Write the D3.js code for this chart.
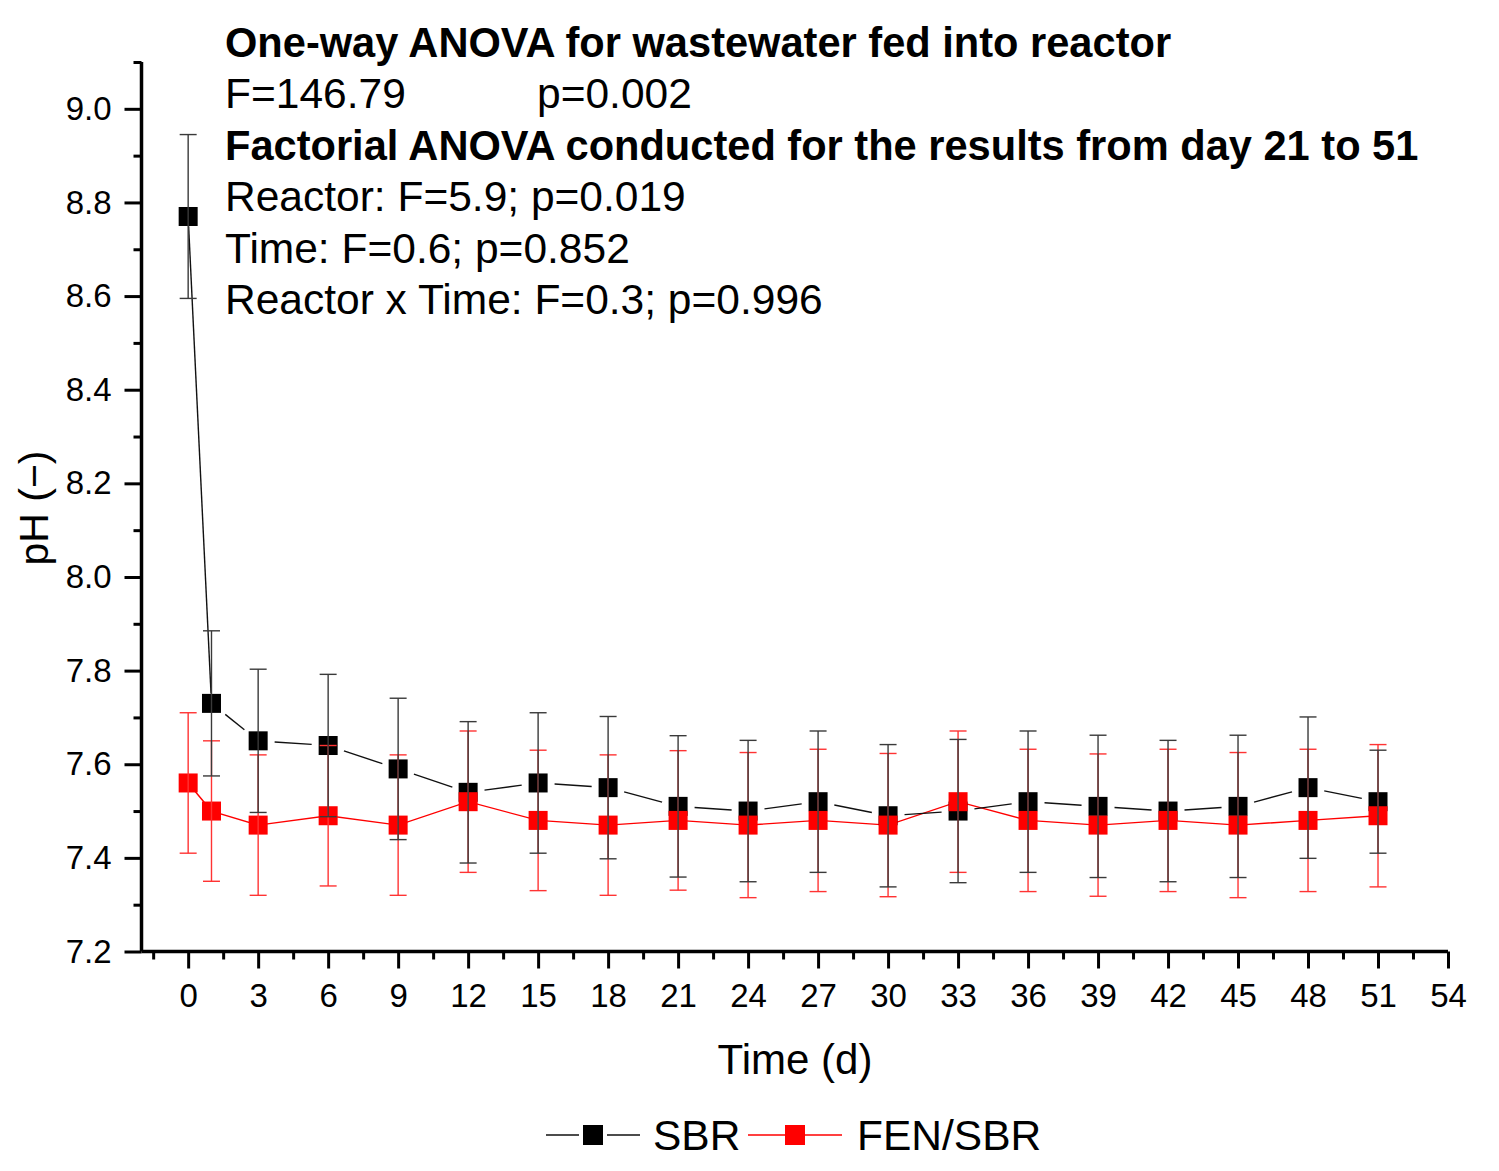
<!DOCTYPE html>
<html>
<head>
    <meta charset="utf-8">
    <style>
        body { margin: 0; background: white; overflow: hidden; }
        svg { display: block; background: white; }
        text { font-family: "Liberation Sans", Arial, sans-serif; fill: black; }
        .axis path, .axis line { stroke: black; }
        .note { font-size: 42.5px; }
        .note.bold { font-size: 41.6px; font-weight: bold; }
    </style>
    <script src="https://d3js.org/d3.v7.min.js"></script>
</head>
<body>
<script>
// time points (d)
const days = [0, 1, 3, 6, 9, 12, 15, 18, 21, 24, 27, 30, 33, 36, 39, 42, 45, 48, 51];
// SBR pH mean and error
const sbrMean = [8.77, 7.73, 7.65, 7.64, 7.59, 7.54, 7.56, 7.55, 7.51, 7.50, 7.52, 7.49, 7.50, 7.52, 7.51, 7.50, 7.51, 7.55, 7.52];
const sbrErr  = [0.175, 0.155, 0.153, 0.152, 0.151, 0.151, 0.150, 0.152, 0.151, 0.151, 0.151, 0.152, 0.153, 0.151, 0.152, 0.151, 0.152, 0.151, 0.11];
// FEN/SBR pH mean and error
const fenMean = [7.56, 7.50, 7.47, 7.49, 7.47, 7.52, 7.48, 7.47, 7.48, 7.47, 7.48, 7.47, 7.52, 7.48, 7.47, 7.48, 7.47, 7.48, 7.49];
const fenErr  = [0.150, 0.150, 0.150, 0.150, 0.150, 0.151, 0.150, 0.150, 0.149, 0.155, 0.152, 0.153, 0.151, 0.152, 0.152, 0.152, 0.155, 0.152, 0.152];

const xMajor = d3.range(0, 55, 3);
const xMinor = d3.range(-1.5, 54, 3);
const yMajor = [7.2, 7.4, 7.6, 7.8, 8.0, 8.2, 8.4, 8.6, 8.8, 9.0];
const yMinor = [7.3, 7.5, 7.7, 7.9, 8.1, 8.3, 8.5, 8.7, 8.9, 9.1];

const notes = [
    {text: "One-way ANOVA for wastewater fed into reactor", bold: true},
    {text: "F=146.79", extra: "p=0.002"},
    {text: "Factorial ANOVA conducted for the results from day 21 to 51", bold: true},
    {text: "Reactor: F=5.9; p=0.019"},
    {text: "Time: F=0.6; p=0.852"},
    {text: "Reactor x Time: F=0.3; p=0.996"}
];

const W = 1499, H = 1171;
const svg = d3.select("body").append("svg")
    .attr("width", W).attr("height", H);

const x = d3.scaleLinear().domain([-2, 54]).range([141.5, 1448]);
const y = d3.scaleLinear().domain([7.2, 9.1]).range([951.5, 62]);

const sbr = days.map((d, i) => ({x: d, y: sbrMean[i], e: sbrErr[i]}));
const fen = days.map((d, i) => ({x: d, y: fenMean[i], e: fenErr[i]}));

const M = 19; // marker size

// red line (touches markers)
svg.append("path")
    .datum(fen)
    .attr("fill", "none")
    .attr("stroke", "#ff0000")
    .attr("stroke-width", 1.4)
    .attr("d", d3.line().x(d => x(d.x)).y(d => y(d.y)));

// black line with gaps round markers
const gapLine = svg.append("g");
for (let i = 0; i < sbr.length - 1; i++) {
    const x0 = x(sbr[i].x), y0 = y(sbr[i].y), x1 = x(sbr[i + 1].x), y1 = y(sbr[i + 1].y);
    const dx = x1 - x0, dy = y1 - y0, L = Math.hypot(dx, dy);
    const c = Math.abs(dx) / L, s = Math.abs(dy) / L;
    const cut = (M / 2) / Math.max(c, s) + 7 * c;
    if (L <= 2 * cut) continue;
    gapLine.append("line")
        .attr("x1", x0 + dx / L * cut).attr("y1", y0 + dy / L * cut)
        .attr("x2", x1 - dx / L * cut).attr("y2", y1 - dy / L * cut)
        .attr("stroke", "#111").attr("stroke-width", 1.4);
}

// markers
function markers(data, color) {
    svg.append("g").selectAll("rect")
        .data(data).join("rect")
        .attr("x", d => x(d.x) - M / 2)
        .attr("y", d => y(d.y) - M / 2)
        .attr("width", M).attr("height", M)
        .attr("fill", color);
}
markers(sbr, "#000");
markers(fen, "#ff0000");

// error bars
function errorBars(data, color) {
    const g = svg.append("g").attr("stroke", color).attr("stroke-width", 1.4);
    const cap = 8.5;
    data.forEach(d => {
        const cx = x(d.x), t = y(d.y + d.e), b = y(d.y - d.e);
        g.append("line").attr("x1", cx).attr("x2", cx).attr("y1", t).attr("y2", b);
        g.append("line").attr("x1", cx - cap).attr("x2", cx + cap).attr("y1", t).attr("y2", t);
        g.append("line").attr("x1", cx - cap).attr("x2", cx + cap).attr("y1", b).attr("y2", b);
    });
}
errorBars(fen, "#ff3333");
errorBars(sbr, "#3a3a3a");

// axes
const xAxis = svg.append("g").attr("class", "axis")
    .attr("transform", `translate(0,${y(7.2)})`)
    .call(d3.axisBottom(x).tickValues(xMajor).tickSize(17).tickPadding(15).tickFormat(d3.format("d")));
svg.append("g").attr("class", "axis")
    .attr("transform", `translate(0,${y(7.2)})`)
    .call(d3.axisBottom(x).tickValues(xMinor).tickSize(8).tickFormat(""))
    .select(".domain").remove();
xAxis.select(".domain").attr("d", `M${x(-2)},0H${x(54)}`).attr("stroke-width", 3.5);
xAxis.selectAll(".tick text").attr("font-size", 33).style("font-family", '"Liberation Sans", Arial, sans-serif');

const yAxis = svg.append("g").attr("class", "axis")
    .attr("transform", `translate(${x(-2)},0)`)
    .call(d3.axisLeft(y).tickValues(yMajor).tickSize(17).tickPadding(13).tickFormat(d3.format(".1f")));
svg.append("g").attr("class", "axis")
    .attr("transform", `translate(${x(-2)},0)`)
    .call(d3.axisLeft(y).tickValues(yMinor).tickSize(8).tickFormat(""))
    .select(".domain").remove();
yAxis.select(".domain").attr("d", `M0,${y(9.1)}V${y(7.2)}`).attr("stroke-width", 3.5);
yAxis.selectAll(".tick text").attr("font-size", 33).style("font-family", '"Liberation Sans", Arial, sans-serif');
svg.selectAll(".axis .tick line").attr("stroke-width", 3);

// axis titles
svg.append("text")
    .attr("transform", `translate(48,508) rotate(-90)`)
    .attr("text-anchor", "middle")
    .attr("font-size", 41)
    .text("pH (\u2212)");
svg.append("text")
    .attr("x", 795).attr("y", 1074)
    .attr("text-anchor", "middle")
    .attr("font-size", 42)
    .text("Time (d)");

// annotation block
notes.forEach((n, i) => {
    const base = 56.5 + i * 51.5;
    svg.append("text")
        .attr("class", "note" + (n.bold ? " bold" : ""))
        .attr("x", 225).attr("y", base)
        .text(n.text);
    if (n.extra) {
        svg.append("text").attr("class", "note")
            .attr("x", 537).attr("y", base)
            .text(n.extra);
    }
});

// legend
const legend = [
    {name: "SBR", color: "#000", line: "#111", gap: true, x0: 546, text: 653},
    {name: "FEN/SBR", color: "#ff0000", line: "#ff0000", gap: false, x0: 748, text: 857}
];
const ly = 1135;
legend.forEach(l => {
    const cx = l.x0 + 47;
    if (l.gap) {
        svg.append("line").attr("x1", l.x0).attr("x2", cx - 14).attr("y1", ly).attr("y2", ly)
            .attr("stroke", l.line).attr("stroke-width", 1.4);
        svg.append("line").attr("x1", cx + 14).attr("x2", l.x0 + 94).attr("y1", ly).attr("y2", ly)
            .attr("stroke", l.line).attr("stroke-width", 1.4);
    } else {
        svg.append("line").attr("x1", l.x0).attr("x2", l.x0 + 94).attr("y1", ly).attr("y2", ly)
            .attr("stroke", l.line).attr("stroke-width", 1.4);
    }
    svg.append("rect").attr("x", cx - 10).attr("y", ly - 10).attr("width", 20).attr("height", 20)
        .attr("fill", l.color);
    svg.append("text").attr("x", l.text).attr("y", 1150).attr("font-size", 42.5).text(l.name);
});
</script>
</body>
</html>
